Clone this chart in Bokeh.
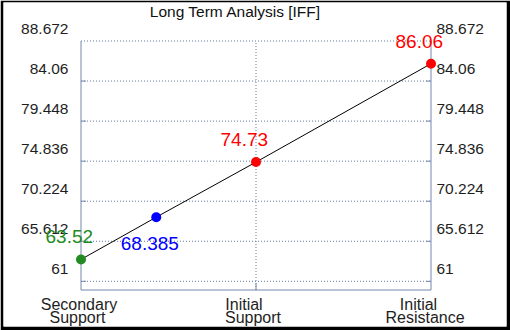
from bokeh.plotting import figure
from bokeh.models import ColumnDataSource, LabelSet, Label, Range1d
from bokeh.core.properties import value
from bokeh.embed import file_html
from bokeh.resources import INLINE

# ---- data ----
title_text = "Long Term Analysis [IFF]"
categories = ["Secondary Support", "Initial Support", "Initial Resistance"]
category_pos = [0, 1, 2]
y_ticks = [61, 65.612, 70.224, 74.836, 79.448, 84.06, 88.672]
y_tick_labels = ["61", "65.612", "70.224", "74.836", "79.448", "84.06", "88.672"]
y_floor = 60.0
level_values = [63.52, 68.385, 74.73, 86.06]
level_labels = ["63.52", "68.385", "74.73", "86.06"]
level_pos = [0, 0.43, 1, 2]
level_colors = ["#228B22", "#0000FF", "#FF0000", "#FF0000"]

# ---- style / layout ----
FONT = value("Liberation Sans")
AXIS = "#7389AB"
GRID = "#5F78A0"
W, H = 510, 330
BL, BT, BR, BB = 3, 2, 4, 4          # black outer border
FX0, FY0 = BL, BT                    # frame origin on canvas
FX1, FY1 = W - BR, H - BB
# canvas positions of the chart box
BOX_L, BOX_R, BOX_T, BOX_B = 80.5, 430.5, 40.5, 289.5
x_lo, x_hi = min(category_pos), max(category_pos)
y_lo, y_hi = y_floor, max(y_ticks)
ppx = (BOX_R - BOX_L) / (x_hi - x_lo)
ppy = (BOX_B - BOX_T) / (y_hi - y_lo)

p = figure(width=W, height=H,
           x_range=Range1d(x_lo - (BOX_L - FX0) / ppx, x_hi + (FX1 - BOX_R) / ppx),
           y_range=Range1d(y_lo - (FY1 - BOX_B) / ppy, y_hi + (BOX_T - FY0) / ppy),
           x_axis_location=None, y_axis_location=None,
           output_backend="svg", toolbar_location=None,
           min_border_left=BL, min_border_right=BR,
           min_border_top=BT, min_border_bottom=BB)
p.grid.visible = False
p.outline_line_color = None
p.background_fill_color = "white"
p.border_fill_color = "black"

# horizontal dotted grid lines
n = len(y_ticks)
p.segment(x0=[x_lo] * n, x1=[x_hi] * n, y0=y_ticks, y1=y_ticks,
          line_color=GRID, line_width=1, line_dash="1 2")
# vertical dotted grid lines at inner categories
inner = category_pos[1:-1]
p.segment(x0=inner, x1=inner, y0=[y_lo] * len(inner), y1=[y_hi] * len(inner),
          line_color=GRID, line_width=1, line_dash="1 2")

# solid axis lines (left, right, bottom)
p.segment(x0=[x_lo, x_hi, x_lo], x1=[x_lo, x_hi, x_hi],
          y0=[y_lo, y_lo, y_lo], y1=[y_hi, y_hi, y_lo],
          line_color=AXIS, line_width=1)
# inward ticks
tk = y_ticks[:-1]
tlen = 5 / ppx
p.segment(x0=[x_lo] * len(tk), x1=[x_lo + tlen] * len(tk), y0=tk, y1=tk,
          line_color=AXIS, line_width=1)
p.segment(x0=[x_hi] * len(tk), x1=[x_hi - tlen] * len(tk), y0=tk, y1=tk,
          line_color=AXIS, line_width=1)
p.segment(x0=inner, x1=inner, y0=[y_lo] * len(inner),
          y1=[y_lo + 7 / ppy] * len(inner), line_color=AXIS, line_width=1)

# data line and points
p.line(level_pos, level_values, line_color="black", line_width=1)
p.scatter(level_pos, level_values, size=10, color=level_colors, line_color=None)

# y tick labels (left and right)
left_src = ColumnDataSource(dict(x=[x_lo] * n, y=y_ticks, text=y_tick_labels))
right_src = ColumnDataSource(dict(x=[x_hi] * n, y=y_ticks, text=y_tick_labels))
for src, off, al in ((left_src, -12.5, "right"), (right_src, 5.5, "left")):
    p.add_layout(LabelSet(source=src, x="x", y="y", text="text",
                          x_offset=off, y_offset=7, text_align=al,
                          text_baseline="alphabetic", text_font=FONT,
                          text_font_size="15.5px", text_color="#1E1E1E"))

# category labels (two lines)
line1 = [c.split(" ", 1)[0] for c in categories]
line2 = [c.split(" ", 1)[1] for c in categories]
m = len(categories)
cat1 = ColumnDataSource(dict(x=category_pos, y=[y_lo] * m, text=line1,
                             dx=[-2, -12, -12.5]))
cat2 = ColumnDataSource(dict(x=category_pos, y=[y_lo] * m, text=line2,
                             dx=[-3.5, -3, -6]))
for src, dy in ((cat1, -20), (cat2, -33)):
    p.add_layout(LabelSet(source=src, x="x", y="y", text="text",
                          x_offset="dx", y_offset=dy, text_align="center",
                          text_baseline="alphabetic", text_font=FONT,
                          text_font_size="16px", text_color="#1E1E1E"))

# value labels
val_src = ColumnDataSource(dict(x=level_pos, y=level_values, text=level_labels,
                                color=level_colors, dy=[16, -33, 16, 16]))
p.add_layout(LabelSet(source=val_src, x="x", y="y", text="text",
                      x_offset=-35.5, y_offset="dy", text_align="left",
                      text_baseline="alphabetic", text_font=FONT,
                      text_font_size="19px", text_color="color"))

# title
p.add_layout(Label(x=(x_lo + x_hi) / 2, y=y_hi, text=title_text,
                   x_offset=-20.5, y_offset=30, text_align="center",
                   text_baseline="alphabetic", text_font="Liberation Sans",
                   text_font_size="15.5px", text_color="#111111"))

open("out.html", "w").write(file_html(p, INLINE))
